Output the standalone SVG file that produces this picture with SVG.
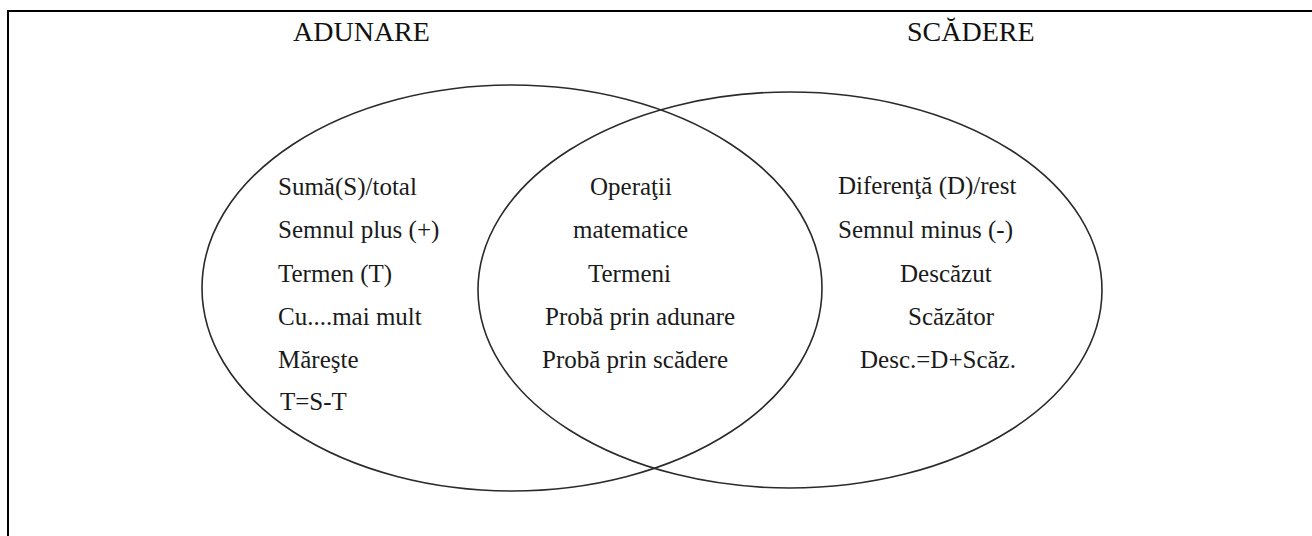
<svg xmlns="http://www.w3.org/2000/svg" width="1312" height="536" viewBox="0 0 1312 536">
  <style>
    .frame { fill: none; stroke: #000; stroke-width: 2; }
    .set { fill: none; stroke: #2a2a2a; stroke-width: 1.6; }
    .title { font-family: "Liberation Serif", "Times New Roman", serif; font-size: 28px; fill: #111; }
    .item { font-family: "Liberation Serif", "Times New Roman", serif; font-size: 25px; fill: #1a1a1a; }
  </style>
  <rect width="1312" height="536" fill="#fff"/>
  <!-- outer frame (open at right and bottom edges) -->
  <path class="frame" d="M8,536 V11 H1312"/>

  <!-- set titles -->
  <text class="title" x="293" y="41">ADUNARE</text>
  <text class="title" x="907" y="41">SCĂDERE</text>

  <!-- addition set -->
  <g id="set-adunare">
    <ellipse class="set" cx="512" cy="288" rx="310" ry="203"/>
    <text class="item" x="278" y="195">Sumă(S)/total</text>
    <text class="item" x="278" y="238">Semnul plus (+)</text>
    <text class="item" x="278" y="282">Termen (T)</text>
    <text class="item" x="278" y="325">Cu....mai mult</text>
    <text class="item" x="278" y="368">Măreşte</text>
    <text class="item" x="280" y="410">T=S-T</text>
  </g>

  <!-- subtraction set -->
  <g id="set-scadere">
    <ellipse class="set" cx="790" cy="290" rx="312" ry="198"/>
    <text class="item" x="838" y="194">Diferenţă (D)/rest</text>
    <text class="item" x="838" y="238">Semnul minus (-)</text>
    <text class="item" x="900" y="282">Descăzut</text>
    <text class="item" x="908" y="325">Scăzător</text>
    <text class="item" x="860" y="368">Desc.=D+Scăz.</text>
  </g>

  <!-- shared region -->
  <g id="intersectie">
    <text class="item" x="590" y="195">Operaţii</text>
    <text class="item" x="573" y="238">matematice</text>
    <text class="item" x="588" y="282">Termeni</text>
    <text class="item" x="545" y="325">Probă prin adunare</text>
    <text class="item" x="542" y="368">Probă prin scădere</text>
  </g>
</svg>
